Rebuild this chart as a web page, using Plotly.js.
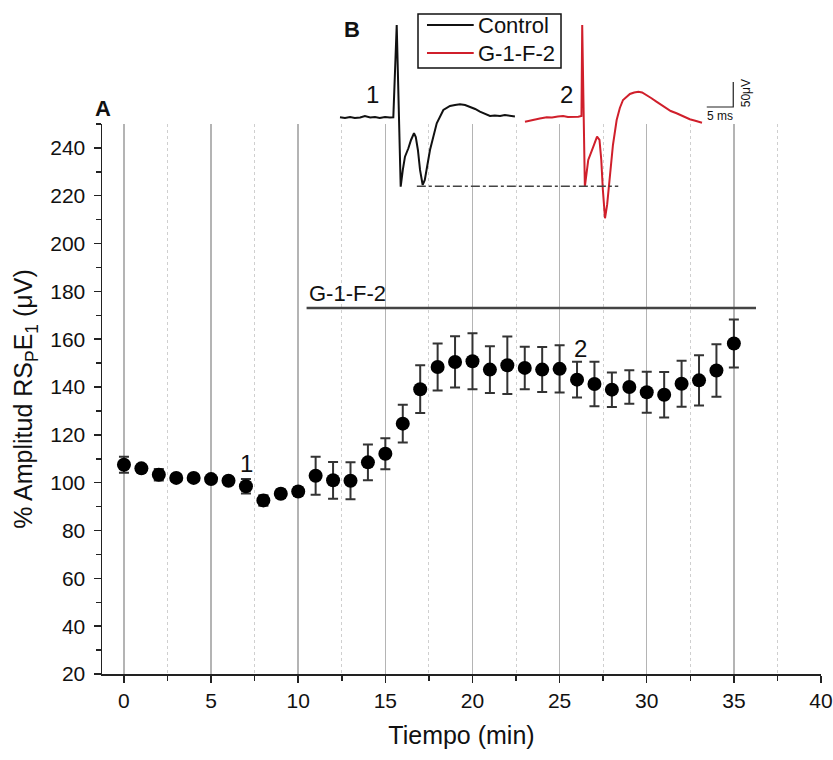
<!DOCTYPE html>
<html>
<head>
<meta charset="utf-8">
<script src="https://cdn.plot.ly/plotly-3.0.1.min.js"></script>
<style>html,body{margin:0;padding:0;background:#fff;}#chart{width:833px;height:760px;}</style>
</head>
<body>
<div id="chart"></div>
<script>
// ---- Panel A data: % amplitude vs time (min) ----
var timeMin = [0,1,2,3,4,5,6,7,8,9,10,11,12,13,14,15,16,17,18,19,20,21,22,23,24,25,26,27,28,29,30,31,32,33,34,35];
var amplitude = [107.5,106,103.3,102,102,101.5,100.8,98.5,92.6,95.4,96.3,102.9,101,100.8,108.5,112.1,124.7,139.1,148.4,150.5,150.8,147.3,149.1,148,147.3,147.6,143.1,141.3,138.9,140,137.8,136.8,141.4,142.8,146.9,158.2];
var amplitudeErr = [3.3,1.5,2.4,1.5,1.3,1.3,1.5,3,2.2,1.8,1.8,7.9,7.7,7.7,7.5,6.5,7.9,10,9.8,10.7,11.7,9.8,12,8.9,9.4,9.9,7.5,9.3,7.2,7,8.6,9.5,9.6,10.5,11,10];
var xTickVals = [0,5,10,15,20,25,30,35,40];
var yTickVals = [20,40,60,80,100,120,140,160,180,200,220,240];

// ---- Panel B data: recorded traces (ms, µV) ----
var ctrlT = [0,0.94,1.9,2.8,3.8,4.7,5.7,6.6,7.5,8.5,9.4,10.06,10.7,11.45,11.85,12.26,12.9,13.4,13.96,14.3,14.7,15.1,15.6,16.0,16.98,18.25,19.5,20.75,21.7,22.64,23.6,24.5,25.5,26.4,27.4,28.3,29.2,30.2,31.1,32.1,33.0];
var ctrlV = [0,-1.4,0.6,-1.4,-0.4,2.6,-0.4,0.6,-1.4,0.6,-0.4,0,184.6,-138.8,-105,-78.8,-62,-45.4,-32,-39.4,-65.4,-105.4,-135.4,-125.4,-65.4,-12,14.6,22.6,24.6,26,24.6,21.2,16.6,11.2,6.6,2.6,3.6,2.6,4.6,2.6,1.6];
var drugT = [0,0.94,1.9,2.8,4.1,5.1,6.2,7.2,8.1,9.1,10.06,10.66,10.8,11.3,11.94,12.9,13.6,14.06,14.4,14.7,15.1,15.5,16.0,16.6,17.3,17.9,18.5,19.8,20.6,21.4,22.1,23.0,23.8,24.8,25.7,26.7,27.5,28.6,29.8,31.1,32.3,33.4];
var drugV = [-8.8,-6.4,-4.4,-2.4,0,-0.4,1.6,2.6,0.6,0.6,1.2,2.6,184.6,-138.8,-85.4,-58.8,-38.8,-45.4,-85.4,-145.4,-202,-175.4,-118.8,-55.4,-5.4,18.6,34.6,46.6,49.6,51.2,49.6,44.6,38.6,31.2,24.6,18,12.6,8,2.6,-4,-7.4,-10.8];
var traceNames = ["Control", "G-1-F-2"];
var traceColors = ["#111111", "#d01f2b"];
var drugOffsetMs = 34.9;   // second recording drawn to the right of the first
var peakLevel = -138;      // dash-dot reference level (µV)

var FONT = "Liberation Sans, Arial, sans-serif";
var AXC = "#222";

var traces = [
  {
    x: timeMin, y: amplitude, type: "scatter", mode: "markers",
    xaxis: "x", yaxis: "y", showlegend: false,
    marker: {size: 14, color: "#000"},
    error_y: {type: "data", array: amplitudeErr, visible: true, color: "#333", thickness: 2, width: 5}
  },
  {
    x: ctrlT, y: ctrlV, type: "scatter", mode: "lines", name: traceNames[0],
    xaxis: "x2", yaxis: "y2", showlegend: false,
    line: {color: traceColors[0], width: 2}
  },
  {
    x: drugT.map(function(t){return t + drugOffsetMs;}), y: drugV, type: "scatter", mode: "lines", name: traceNames[1],
    xaxis: "x2", yaxis: "y2", showlegend: false,
    line: {color: traceColors[1], width: 2}
  }
];

// legend box (paper coordinates)
var legX0 = 0.4395, legX1 = 0.6384, legY0 = 0.9127, legY1 = 0.9940;
var legRows = [0.9774, 0.9352];
var legShapes = [
  {type: "rect", xref: "paper", yref: "paper", x0: legX0, x1: legX1, y0: legY0, y1: legY1,
   line: {color: "#111", width: 1.5}, fillcolor: "#fff", layer: "above"}
];
var legAnn = [];
for (var i = 0; i < traceNames.length; i++) {
  legShapes.push({type: "line", xref: "paper", yref: "paper", x0: 0.452, x1: 0.517, y0: legRows[i], y1: legRows[i],
                  line: {color: traceColors[i], width: 2}});
  legAnn.push({xref: "paper", yref: "paper", x: 0.5205, y: legRows[i], text: traceNames[i], showarrow: false,
               xanchor: "left", yanchor: "middle", font: {family: FONT, size: 22, color: "#111"}});
}

var layout = {
  width: 833, height: 760,
  margin: {l: 102, r: 12, t: 10, b: 86},
  paper_bgcolor: "#fff", plot_bgcolor: "rgba(0,0,0,0)",
  font: {family: FONT, color: "#111", size: 21},
  showlegend: false,
  xaxis: {
    domain: [0, 1], anchor: "y",
    range: [-1.26, 40],
    tickmode: "array", tickvals: xTickVals,
    ticks: "outside", ticklen: 7, tickwidth: 1.5, tickcolor: AXC,
    showline: true, linecolor: AXC, linewidth: 1.5,
    showgrid: true, gridcolor: "#b4b4b4", gridwidth: 1.5,
    zeroline: false,
    tickfont: {family: FONT, size: 21, color: "#111"},
    minor: {dtick: 2.5, tick0: 0, ticks: "outside", ticklen: 5, tickcolor: AXC, tickwidth: 1.5,
            showgrid: true, gridcolor: "#cfcfcf", gridwidth: 1, griddash: "3px,3px"},
    title: {text: "Tiempo (min)", font: {family: FONT, size: 25, color: "#111"}, standoff: 16}
  },
  yaxis: {
    domain: [0, 0.82831], anchor: "x",
    range: [20, 250],
    tickmode: "array", tickvals: yTickVals,
    ticks: "outside", ticklen: 7, tickwidth: 1.5, tickcolor: AXC,
    showline: true, linecolor: AXC, linewidth: 1.5,
    showgrid: false, zeroline: false,
    ticklabelstandoff: 4,
    tickfont: {family: FONT, size: 21, color: "#111"},
    minor: {dtick: 10, tick0: 10, ticks: "outside", ticklen: 5, tickcolor: AXC, tickwidth: 1.5, showgrid: false},
    title: {text: "% Amplitud RS<sub>P</sub>E<sub>1</sub> (μV)", font: {family: FONT, size: 25, color: "#111"}, standoff: 10}
  },
  xaxis2: {domain: [0, 1], anchor: "y2", range: [-44.906, 90.755], visible: false, fixedrange: true},
  yaxis2: {domain: [0.6627, 1], anchor: "x2", range: [-233.4, 214.6], visible: false, fixedrange: true},
  shapes: [
    {type: "line", xref: "x", yref: "y", x0: 10.48, x1: 36.27, y0: 173.1, y1: 173.1,
     line: {color: "#444", width: 2.5}},
    {type: "line", xref: "x2", yref: "y2", x0: 14.5, x1: 52.5, y0: peakLevel, y1: peakLevel,
     line: {color: "#444", width: 1.5, dash: "dashdot"}},
    {type: "path", xref: "x2", yref: "y2", path: "M 69.2 20.6 L 74.2 20.6 L 74.2 70.6",
     line: {color: "#222", width: 1.2}}
  ].concat(legShapes),
  annotations: [
    {xref: "x", yref: "y", x: 10.5, y: 179.1, text: "G-1-F-2", showarrow: false,
     xanchor: "left", yanchor: "middle", font: {family: FONT, size: 22, color: "#111"}},
    {xref: "x", yref: "y", x: 7.04, y: 108.2, text: "1", showarrow: false,
     xanchor: "center", yanchor: "middle", font: {family: FONT, size: 24, color: "#111"}},
    {xref: "x", yref: "y", x: 26.17, y: 156.3, text: "2", showarrow: false,
     xanchor: "center", yanchor: "middle", font: {family: FONT, size: 24, color: "#111"}},
    {xref: "paper", yref: "paper", x: 0.0014, y: 0.8524, text: "<b>A</b>", showarrow: false,
     xanchor: "center", yanchor: "middle", font: {family: FONT, size: 22, color: "#111"}},
    {xref: "paper", yref: "paper", x: 0.3477, y: 0.970, text: "<b>B</b>", showarrow: false,
     xanchor: "center", yanchor: "middle", font: {family: FONT, size: 22, color: "#111"}},
    {xref: "x2", yref: "y2", x: 6.04, y: 44.6, text: "1", showarrow: false,
     xanchor: "center", yanchor: "middle", font: {family: FONT, size: 24, color: "#111"}},
    {xref: "x2", yref: "y2", x: 42.8, y: 44.6, text: "2", showarrow: false,
     xanchor: "center", yanchor: "middle", font: {family: FONT, size: 24, color: "#111"}},
    {xref: "x2", yref: "y2", x: 71.7, y: 3, text: "5 ms", showarrow: false,
     xanchor: "center", yanchor: "middle", font: {family: FONT, size: 12, color: "#111"}},
    {xref: "x2", yref: "y2", x: 76.6, y: 48, text: "50μV", showarrow: false, textangle: -90,
     xanchor: "center", yanchor: "middle", font: {family: FONT, size: 12, color: "#111"}}
  ].concat(legAnn)
};

Plotly.newPlot("chart", traces, layout, {displayModeBar: false, staticPlot: true});
</script>
</body>
</html>
